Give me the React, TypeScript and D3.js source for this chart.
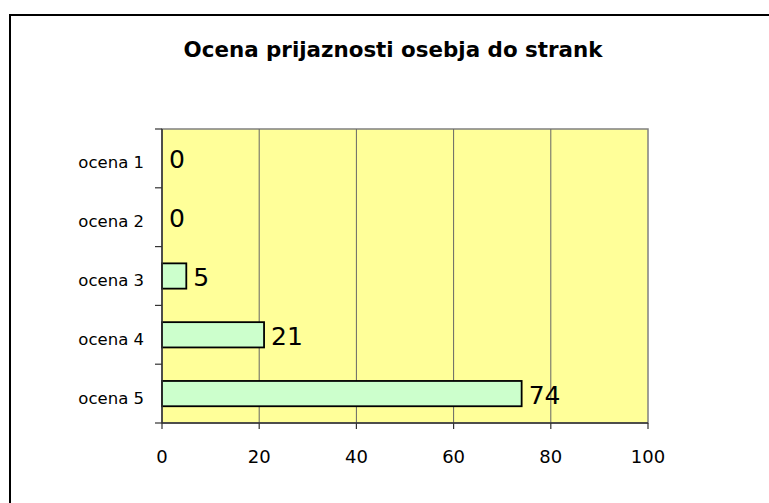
import { useEffect, useRef } from "react";
import * as d3 from "d3";

const categories = ["ocena 1", "ocena 2", "ocena 3", "ocena 4", "ocena 5"];
const values = [0, 0, 5, 21, 74];
const xTicks = [0, 20, 40, 60, 80, 100];
const title = "Ocena prijaznosti osebja do strank";

const App = () => {
  const svgRef = useRef<SVGSVGElement | null>(null);

  useEffect(() => {
    const width = 769;
    const height = 503;
    const margin = { top: 129, right: 121, bottom: 80, left: 162 };
    const font = "'DejaVu Sans', sans-serif";

    const svg = d3.select(svgRef.current);
    svg.selectAll("*").remove();
    svg.attr("width", width).attr("height", height).style("background", "white");

    // outer frame (runs off the right and bottom edges)
    svg
      .append("rect")
      .attr("x", 10)
      .attr("y", 15)
      .attr("width", 800)
      .attr("height", 520)
      .attr("fill", "white")
      .attr("stroke", "black")
      .attr("stroke-width", 2);

    const x = d3
      .scaleLinear()
      .domain([0, 100])
      .range([margin.left, width - margin.right]);

    const y = d3
      .scaleBand()
      .domain(categories)
      .range([margin.top, height - margin.bottom])
      .paddingInner(0.57)
      .paddingOuter(0.285);

    const y0 = margin.top;
    const y1 = height - margin.bottom;
    const mid = (c: string) => (y(c) ?? 0) + y.bandwidth() / 2;

    // plot background
    svg
      .append("rect")
      .attr("x", x(0))
      .attr("y", y0)
      .attr("width", x(100) - x(0))
      .attr("height", y1 - y0)
      .attr("fill", "#FFFF99")
      .attr("stroke", "#808080")
      .attr("stroke-width", 1.5);

    // grid lines
    svg
      .append("g")
      .selectAll("line")
      .data(xTicks.filter((t) => t > 0 && t < 100))
      .join("line")
      .attr("x1", (d) => x(d))
      .attr("x2", (d) => x(d))
      .attr("y1", y0)
      .attr("y2", y1)
      .attr("stroke", "#666")
      .attr("stroke-width", 1);

    // bars
    svg
      .append("g")
      .selectAll("rect")
      .data(values.map((v, i) => ({ v, c: categories[i] })).filter((d) => d.v > 0))
      .join("rect")
      .attr("x", x(0))
      .attr("y", (d) => y(d.c) ?? 0)
      .attr("width", (d) => x(d.v) - x(0))
      .attr("height", y.bandwidth())
      .attr("fill", "#CCFFCC")
      .attr("stroke", "black")
      .attr("stroke-width", 1.8);

    // value labels
    svg
      .append("g")
      .selectAll("text")
      .data(values.map((v, i) => ({ v, c: categories[i] })))
      .join("text")
      .attr("x", (d) => x(d.v) + 7)
      .attr("y", (d) => mid(d.c) + 10)
      .attr("font-family", font)
      .attr("font-size", 25)
      .attr("fill", "black")
      .text((d) => d.v);

    // y axis
    const yAxis = svg.append("g");
    yAxis
      .append("line")
      .attr("x1", x(0))
      .attr("x2", x(0))
      .attr("y1", y0)
      .attr("y2", y1)
      .attr("stroke", "#333")
      .attr("stroke-width", 1.5);
    const step = (y1 - y0) / categories.length;
    yAxis
      .selectAll(".tick")
      .data(d3.range(categories.length + 1))
      .join("line")
      .attr("x1", x(0) - 7)
      .attr("x2", x(0))
      .attr("y1", (i) => y0 + i * step)
      .attr("y2", (i) => y0 + i * step)
      .attr("stroke", "#333")
      .attr("stroke-width", 1.2);
    yAxis
      .selectAll("text")
      .data(categories)
      .join("text")
      .attr("x", 144)
      .attr("y", (d) => mid(d) + 10)
      .attr("text-anchor", "end")
      .attr("font-family", font)
      .attr("font-size", 16.5)
      .attr("fill", "black")
      .text((d) => d);

    // x axis
    const xAxis = svg.append("g");
    xAxis
      .append("line")
      .attr("x1", x(0))
      .attr("x2", x(100))
      .attr("y1", y1)
      .attr("y2", y1)
      .attr("stroke", "#333")
      .attr("stroke-width", 1.5);
    xAxis
      .selectAll("line.tick")
      .data(xTicks)
      .join("line")
      .attr("class", "tick")
      .attr("x1", (d) => x(d))
      .attr("x2", (d) => x(d))
      .attr("y1", y1)
      .attr("y2", y1 + 6)
      .attr("stroke", "#333")
      .attr("stroke-width", 1.2);
    xAxis
      .selectAll("text")
      .data(xTicks)
      .join("text")
      .attr("x", (d) => x(d))
      .attr("y", y1 + 40)
      .attr("text-anchor", "middle")
      .attr("font-family", font)
      .attr("font-size", 18)
      .attr("fill", "black")
      .text((d) => d);

    // title
    svg
      .append("text")
      .attr("x", 393)
      .attr("y", 57)
      .attr("text-anchor", "middle")
      .attr("font-family", font)
      .attr("font-weight", "bold")
      .attr("font-size", 21.4)
      .attr("fill", "black")
      .text(title);
  }, []);

  return (
    <div style={{ position: "absolute", left: 0, top: 0 }}>
      <svg ref={svgRef}></svg>
    </div>
  );
};

export default App;
